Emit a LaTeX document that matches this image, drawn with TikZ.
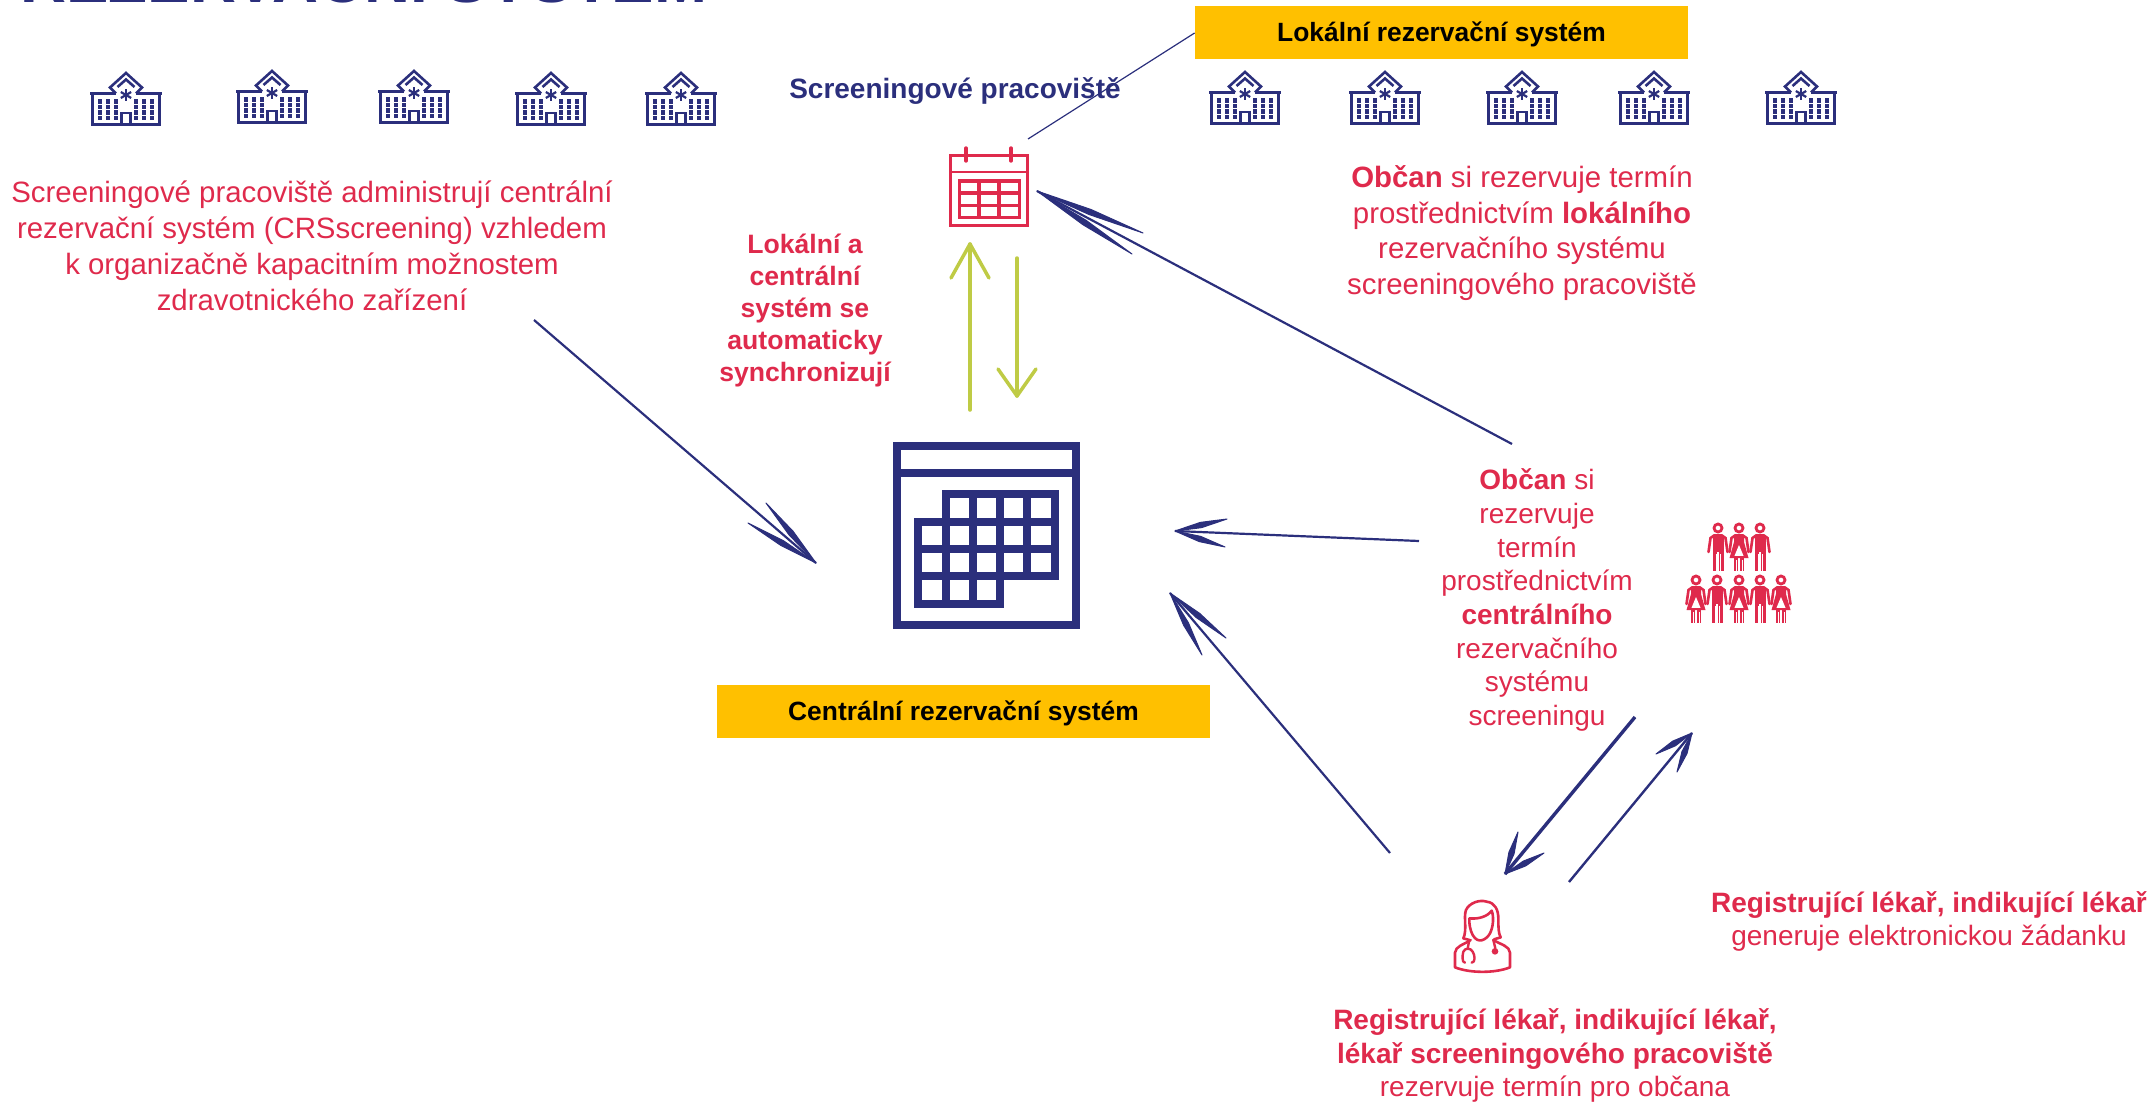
\documentclass[tikz,border=0pt]{standalone}
\usepackage{fontspec}
\setmainfont{Liberation Sans}
\usetikzlibrary{calc}
\definecolor{navy}{HTML}{2B2F7C}
\definecolor{crimson}{HTML}{DF2A4C}
\definecolor{lime}{HTML}{BFCB45}
\definecolor{amber}{HTML}{FFC000}
\tikzset{
  body/.style={text=crimson,align=center,inner sep=0pt,font=\fontsize{14.7}{17.9}\selectfont},
  small/.style={text=crimson,align=center,inner sep=0pt,font=\fontsize{14}{16.85}\selectfont},
  tag/.style={fill=amber,inner sep=0pt,minimum width=246.5pt,minimum height=26.5pt,text height=11.5pt,text depth=2.8pt,font=\fontsize{13.2}{16}\selectfont\bfseries,text=black},
  icon/.style={draw=crimson,line width=1.4pt},
  hosp/.style={draw=navy,line width=1.3pt},
  win/.style={fill=navy},
  greenline/.style={draw=lime,line width=1.75pt,line cap=round,line join=round},
}
\newcommand{\barb}[3]{\filldraw[navy,line width=.5pt,line join=round] (#1) -- ($(#1)!0.5!(#2)!#3!90:(#2)$) -- (#2) -- ($(#1)!0.5!(#2)!#3!-90:(#2)$) -- cycle;}
\newcommand{\navyarrow}[5]{\draw[navy,line width=#5] (#1) -- (#2);\barb{#2}{#3}{1.35pt}\barb{#2}{#4}{1.35pt}}
\newcommand{\hospital}[2]{\begin{scope}[shift={(#1,#2)}]
  \draw[hosp,line join=miter] (-10,20.5) -- (-16,14.5) -- (0,0) -- (16,14.5) -- (10,20.5);
  \draw[hosp,line join=miter] (-8.5,14) -- (0,6.5) -- (8.5,14);
  \draw[hosp] (-36,20.5) -- (-10,20.5) (10,20.5) -- (36,20.5);
  \draw[hosp] (-33.5,20.5) -- (-33.5,51.5) -- (33.5,51.5) -- (33.5,20.5);
  \draw[hosp,line width=1.1pt] (-4.5,52) -- (-4.5,40) -- (4.5,40) -- (4.5,52);
  \foreach \a in {90,30,-30} \draw[navy,line width=1.1pt] (0,22)++(\a:6) -- ++(\a+180:12);
  \foreach \cx in {-26,-18,-10,10,18,26} \foreach \ry in {28.5,34,39.5,45}
    \fill[win] (\cx-2.1,\ry-2.1) rectangle (\cx+2.1,\ry+2.1);
\end{scope}}
\newcommand{\armstorso}{%
  \draw[icon,line cap=round,line width=1.3pt] (-9.5,24) -- (-7.5,10) -- (-4,7.5) -- (4,7.5) -- (7.5,10) -- (9.5,24);
}
\newcommand{\man}[2]{\begin{scope}[shift={(#1,#2)}]
  \draw[icon] (0,0) circle (4);
  \armstorso
  \fill[crimson] (-5.5,7.5) rectangle (5.5,24);
  \fill[crimson] (-5.5,22) rectangle (-.8,43);
  \fill[crimson] (.8,22) rectangle (5.5,43);
  \fill[white] (-2.3,26) rectangle (-1.7,43);
  \fill[white] (2.3,26) rectangle (3.2,43);
\end{scope}}
\newcommand{\woman}[2]{\begin{scope}[shift={(#1,#2)}]
  \draw[icon] (0,0) circle (4);
  \armstorso
  \fill[crimson] (-5,7.5) -- (5,7.5) -- (5,14) -- (9.5,30) -- (-9.5,30) -- (-5,14) -- cycle;
  \fill[white] (0,17) -- (4.5,27.8) -- (-4.5,27.8) -- cycle;
  \fill[crimson] (-4.8,30) rectangle (-1.2,43);
  \fill[crimson] (1.2,30) rectangle (4.8,43);
  \fill[white] (-3.2,32) rectangle (-2.6,43);
  \fill[white] (2.6,32) rectangle (3.2,43);
\end{scope}}
\begin{document}
\begin{tikzpicture}[x=.5pt,y=-.5pt]
\useasboundingbox (0,0) rectangle (2154,1102);
\begin{scope}
\clip (0,0) rectangle (2154,1102);
\node[anchor=base west,inner sep=0pt,text=navy,font=\fontsize{31.8}{32}\selectfont\bfseries] (title) at (20,2.5) {REZERVAČNÍ SYSTÉM};
\end{scope}

% hospitals
\hospital{126}{73}\hospital{272}{71}\hospital{414}{71}\hospital{551}{73}\hospital{681}{73}
\hospital{1245}{72}\hospital{1385}{72}\hospital{1522}{72}\hospital{1654}{72}\hospital{1801}{72}

% tags
\node[tag] (localtag) at (1441.5,33) {Lokální rezervační systém};
\node[tag] (centraltag) at (963.5,711.5) {Centrální rezervační systém};

% texts
\node[inner sep=0pt,text=navy,font=\fontsize{14}{17}\selectfont\bfseries] (site) at (955,91.5) {Screeningové pracoviště};
\node[body] (admin) at (312,246) {Screeningové pracoviště administrují centrální\\rezervační systém (CRSscreening) vzhledem\\k organizačně kapacitním možnostem\\zdravotnického zařízení};
\node[body] (citlocal) at (1522,233) {\textbf{Občan} si rezervuje termín\\prostřednictvím \textbf{lokálního}\\rezervačního systému\\screeningového pracoviště};
\node[small,font=\fontsize{13.3}{16}\selectfont\bfseries] (sync) at (805,311) {Lokální a\\centrální\\systém se\\automaticky\\synchronizují};
\node[small] (citcentral) at (1537,600) {\textbf{Občan} si\\rezervuje\\termín\\prostřednictvím\\\textbf{centrálního}\\rezervačního\\systému\\screeningu};
\node[small] (docs) at (1555,1055.5) {\textbf{Registrující lékař, indikující lékař,}\\\textbf{lékař screeningového pracoviště}\\rezervuje termín pro občana};
\node[small] (gen) at (1929,921.5) {\textbf{Registrující lékař, indikující lékař}\\generuje elektronickou žádanku};

% small calendar
\node[inner sep=0pt,minimum width=40pt,minimum height=37pt] (calsmall) at (989,190) {};
\draw[icon] (950.5,155.5) rectangle (1027.5,225.5);
\draw[icon] (950.5,172) -- (1027.5,172);
\draw[icon,line cap=round,line width=1.7pt] (966,148) -- (966,161);
\draw[icon,line cap=round,line width=1.7pt] (1011,148) -- (1011,161);
\draw[icon,line width=1.7pt] (959.5,181) rectangle (1019.5,217.5);
\draw[icon,line width=1.7pt] (979,181) -- (979,217.5) (999,181) -- (999,217.5) (959.5,193) -- (1019.5,193) (959.5,205.5) -- (1019.5,205.5);

% big calendar
\node[inner sep=0pt,minimum width=93pt,minimum height=93pt] (calbig) at (986.5,535.5) {};
\begin{scope}[draw=navy,line width=4pt]
\draw (897,446) rectangle (1076,625);
\draw (897,472.7) -- (1076,472.7);
\draw[line join=miter] (945.7,494.3) -- (1054.7,494.3) -- (1054.7,576.3) -- (1000,576.3) -- (1000,603.7) -- (918.3,603.7) -- (918.3,521.7) -- (945.7,521.7) -- cycle;
\draw (945.7,494.3) -- (945.7,603.7) (973,494.3) -- (973,603.7) (1000,494.3) -- (1000,576.3) (1027.3,494.3) -- (1027.3,576.3);
\draw (918.3,521.7) -- (1054.7,521.7) (918.3,549) -- (1054.7,549) (918.3,576.3) -- (1000,576.3);
\end{scope}

% people
\man{1718}{528}\woman{1739}{528}\man{1760}{528}
\woman{1696}{580}\man{1717}{580}\woman{1739}{580}\man{1760}{580}\woman{1781}{580}

% doctor
\begin{scope}[shift={(1430,880)},scale=1/3,line cap=round,line join=round]
\draw[icon,line width=1.3pt] (100,175) .. controls (112,150) and (100,110) .. (108,90) .. controls (118,68) and (150,58) .. (170,65) .. controls (195,68) and (205,90) .. (205,115) .. controls (205,140) and (205,160) .. (212,172);
\draw[icon,line width=1.3pt] (100,175) -- (118,180) (212,172) -- (192,178);
\draw[icon,line width=1.3pt] (118,115) .. controls (145,118) and (172,110) .. (185,92) .. controls (192,110) and (190,140) .. (180,160) .. controls (170,178) and (145,195) .. (128,165) .. controls (120,150) and (117,130) .. (118,115);
\draw[icon,line width=1.3pt] (75,262) -- (75,218) .. controls (77,198) and (100,195) .. (122,180);
\draw[icon,line width=1.3pt] (240,262) -- (240,218) .. controls (238,198) and (215,195) .. (190,180);
\draw[icon,line width=1.3pt] (75,262) .. controls (120,280) and (195,280) .. (240,262);
\draw[icon,line width=1.2pt] (118,180) -- (113,205) (105,248) .. controls (95,248) and (97,225) .. (100,215) .. controls (105,203) and (122,203) .. (128,215) .. controls (135,225) and (137,248) .. (125,248);
\draw[icon,line width=1.2pt] (190,180) -- (196,205);
\fill[crimson] (195,214) circle (10);
\end{scope}

% arrows
\coordinate (a1s) at (534,320); \coordinate (a1t) at (816,563);
\coordinate (a2s) at (1512,444); \coordinate (a2t) at (1037,191);
\coordinate (a3s) at (1419,541); \coordinate (a3t) at (1175,531);
\coordinate (a4s) at (1390,853); \coordinate (a4t) at (1170,593);
\coordinate (a5s) at (1635,717); \coordinate (a5t) at (1505,874);
\coordinate (a6s) at (1569,882); \coordinate (a6t) at (1692,733);
\navyarrow{a1s}{a1t}{766,503}{748,523}{1.1pt}
\navyarrow{a2s}{a2t}{1143,233}{1132,254}{1.1pt}
\navyarrow{a3s}{a3t}{1227,519}{1225,547}{1.1pt}
\navyarrow{a4s}{a4t}{1226,638}{1202,655}{1.1pt}
\navyarrow{a5s}{a5t}{1518,832}{1544,853}{1.7pt}
\navyarrow{a6s}{a6t}{1656,754}{1677,772}{1.2pt}

% link from tag to small calendar
\coordinate (lk) at (1028,139);
\draw[navy,line width=.6pt] (localtag.west) -- (lk);

% green
\coordinate (g1s) at (970,410); \coordinate (g1t) at (970,244);
\coordinate (g2s) at (1017,258); \coordinate (g2t) at (1017,396);
\draw[greenline] (g1s) -- (g1t);
\draw[greenline] (951,278) -- (g1t) -- (989,278);
\draw[greenline] (g2s) -- (g2t);
\draw[greenline] (998,369) -- (g2t) -- (1036,369);
\end{tikzpicture}
\end{document}
